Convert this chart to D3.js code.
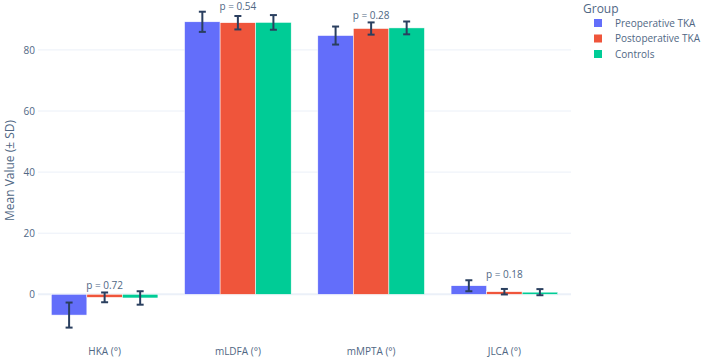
<!DOCTYPE html>
<html>
<head>
<meta charset="utf-8">
<script src="https://cdn.jsdelivr.net/npm/d3@7"></script>
<style>
  body { margin: 0; background: #fff; }
  text { font-family: "Open Sans", sans-serif; fill: #506784; }
</style>
</head>
<body>
<div id="chart"></div>
<script>
// measurements and groups
const categories = ["HKA (°)", "mLDFA (°)", "mMPTA (°)", "JLCA (°)"];
const groups = ["Preoperative TKA", "Postoperative TKA", "Controls"];
const colors = ["#636efa", "#EF553B", "#00cc96"];
// mean values per group (same order as categories)
const preMean  = [-6.8, 89.2, 84.7, 2.8];
const postMean = [-1.0, 88.9, 87.0, 0.85];
const ctrlMean = [-1.2, 89.0, 87.2, 0.7];
// standard deviations
const preSD  = [4.1, 3.3, 2.95, 1.8];
const postSD = [1.6, 2.2, 2.0, 0.9];
const ctrlSD = [2.2, 2.4, 2.1, 1.0];
const pValues = ["p = 0.72", "p = 0.54", "p = 0.28", "p = 0.18"];
const yTicks = [0, 20, 40, 60, 80];

const W = 702, H = 360;
const margin = {top: 5, left: 38, right: 131, bottom: 24};
const width = W - margin.left - margin.right;
const height = H - margin.top - margin.bottom;

const svg = d3.select("#chart").append("svg")
  .attr("width", W).attr("height", H);
const g = svg.append("g")
  .attr("transform", "translate(" + margin.left + "," + margin.top + ")");

const means = [preMean, postMean, ctrlMean];
const sds = [preSD, postSD, ctrlSD];
const data = [];
categories.forEach(function(c, i) {
  groups.forEach(function(gr, j) {
    data.push({cat: c, group: gr, mean: means[j][i], sd: sds[j][i], color: colors[j]});
  });
});

const x = d3.scaleBand().domain(categories).range([0, width])
  .paddingInner(0.2).paddingOuter(0.1);
const xg = d3.scaleBand().domain(groups).range([0, x.bandwidth()]);
const y = d3.scaleLinear().domain([-13.65, 94.7]).range([height, 0]);

// gridlines
g.selectAll(".grid").data(yTicks).enter().append("line")
  .attr("x1", 0).attr("x2", width)
  .attr("y1", d => y(d)).attr("y2", d => y(d))
  .attr("stroke", "#EBF0F8")
  .attr("stroke-width", d => d === 0 ? 2 : 1);

// y axis
const yAxis = g.append("g")
  .call(d3.axisLeft(y).tickValues(yTicks).tickSize(0).tickPadding(3));
yAxis.select(".domain").remove();
yAxis.selectAll("text").style("font-size", "10px").attr("fill", "#506784");

svg.append("text")
  .attr("transform", "translate(10," + (margin.top + height / 2) + ") rotate(-90)")
  .attr("text-anchor", "middle")
  .attr("dy", "0.35em")
  .style("font-size", "12px")
  .text("Mean Value (± SD)");

// x axis labels
const xAxis = g.append("g")
  .attr("transform", "translate(0," + height + ")")
  .call(d3.axisBottom(x).tickSize(0).tickPadding(12));
xAxis.select(".domain").remove();
xAxis.selectAll("text").style("font-size", "10px").attr("fill", "#506784");

// bars
g.selectAll(".bar").data(data).enter().append("rect")
  .attr("class", "bar")
  .attr("x", d => x(d.cat) + xg(d.group))
  .attr("width", xg.bandwidth())
  .attr("y", d => y(Math.max(0, d.mean)))
  .attr("height", d => Math.abs(y(d.mean) - y(0)))
  .attr("fill", d => d.color)
  .attr("stroke", "#fff")
  .attr("stroke-width", 0.5);

// error bars
const err = g.selectAll(".err").data(data).enter().append("g")
  .attr("class", "err")
  .attr("stroke", "#2a3f5f")
  .attr("stroke-width", 2);
const cx = d => x(d.cat) + xg(d.group) + xg.bandwidth() / 2;
err.append("line")
  .attr("x1", cx).attr("x2", cx)
  .attr("y1", d => y(d.mean + d.sd)).attr("y2", d => y(d.mean - d.sd));
err.append("line")
  .attr("x1", d => cx(d) - 3.5).attr("x2", d => cx(d) + 3.5)
  .attr("y1", d => y(d.mean + d.sd)).attr("y2", d => y(d.mean + d.sd));
err.append("line")
  .attr("x1", d => cx(d) - 3.5).attr("x2", d => cx(d) + 3.5)
  .attr("y1", d => y(d.mean - d.sd)).attr("y2", d => y(d.mean - d.sd));

// p-value labels
g.selectAll(".pval").data(categories).enter().append("text")
  .attr("class", "pval")
  .attr("x", d => x(d) + x.bandwidth() / 2)
  .attr("y", function(d, i) {
    const top = d3.max([0, 1, 2], j => means[j][i] + sds[j][i]);
    return y(top) - 2;
  })
  .attr("text-anchor", "middle")
  .style("font-size", "10px")
  .text((d, i) => pValues[i]);

// legend
const leg = svg.append("g").attr("transform", "translate(583,0)");
leg.append("text").attr("x", 0).attr("y", 13)
  .style("font-size", "12px").text("Group");
groups.forEach(function(gr, j) {
  const ly = 23 + j * 15.5;
  leg.append("rect").attr("x", 11).attr("y", ly - 4).attr("width", 8).attr("height", 8)
    .attr("fill", colors[j]);
  leg.append("text").attr("x", 32).attr("y", ly).attr("dy", "0.35em")
    .style("font-size", "10px").text(gr);
});
</script>
</body>
</html>
